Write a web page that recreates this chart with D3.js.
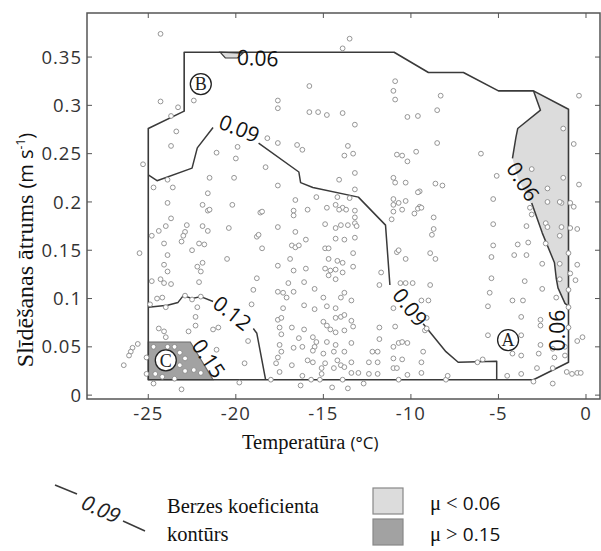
<!DOCTYPE html>
<html>
<head>
<meta charset="utf-8">
<script src="https://cdn.jsdelivr.net/npm/d3@7"></script>
<style>
  body { margin: 0; background: #fff; }
  svg { display: block; }
</style>
</head>
<body>
<svg id="chart" width="601" height="551"></svg>
<script>
// Axis ticks
const xTicks = [-25, -20, -15, -10, -5, 0];
const yTicks = [0, 0.05, 0.1, 0.15, 0.2, 0.25, 0.3, 0.35];

// Observations: [temperature °C, sliding speed m/s]
const observations = [
  [-24.3,0.374],[-24.3,0.304],[-23.3,0.298],[-22.4,0.305],[-23.7,0.289],[-23.4,0.273],[-23.7,0.258],[-25.3,0.239],
  [-24.7,0.215],[-23.6,0.215],[-23.9,0.223],[-23.9,0.199],[-21.1,0.251],[-19.9,0.257],[-20.0,0.245],[-21.5,0.225],
  [-20.1,0.225],[-21.6,0.209],[-21.9,0.197],[-20.2,0.197],[-17.6,0.305],[-17.6,0.297],[-18.2,0.266],[-17.6,0.261],
  [-16.5,0.259],[-18.3,0.236],[-17.6,0.217],[-16.6,0.202],[-21.6,0.191],[-18.6,0.189],[-16.7,0.191],[-23.7,0.183],
  [-13.5,0.369],[-13.9,0.359],[-15.8,0.320],[-15.8,0.293],[-15.3,0.293],[-14.8,0.290],[-13.9,0.292],[-13.2,0.280],
  [-10.9,0.325],[-11.0,0.315],[-10.9,0.306],[-10.2,0.288],[-9.6,0.289],[-16.2,0.254],[-13.6,0.258],[-13.8,0.248],
  [-13.3,0.250],[-10.8,0.249],[-10.5,0.248],[-10.2,0.242],[-9.7,0.252],[-13.2,0.230],[-14.1,0.223],[-13.2,0.213],
  [-11.0,0.225],[-10.9,0.220],[-10.3,0.220],[-9.5,0.211],[-15.4,0.205],[-14.2,0.205],[-13.5,0.204],[-14.3,0.197],
  [-13.9,0.194],[-11.0,0.203],[-10.7,0.199],[-10.3,0.201],[-9.5,0.195],
  [-8.3,0.310],[-8.5,0.295],[-8.5,0.261],[-6.0,0.250],[-5.1,0.227],[-5.3,0.203],[-0.4,0.310],[-1.3,0.276],
  [-0.7,0.260],[-3.1,0.234],[-1.3,0.225],[-0.4,0.218],[-2.2,0.214],[-2.2,0.200],[-1.4,0.199],[-0.9,0.199],
  [-0.7,0.195],[-3.2,0.194],[-8.6,0.219],[-8.2,0.217],[-9.6,0.210],
  [-21.5,0.192],[-22.8,0.176],[-21.9,0.175],[-21.6,0.170],[-20.4,0.173],[-24.0,0.175],[-24.4,0.170],[-24.8,0.165],
  [-22.9,0.169],[-23.0,0.165],[-23.1,0.159],[-24.1,0.157],[-22.1,0.157],[-21.8,0.156],[-22.5,0.150],[-25.5,0.147],
  [-23.9,0.145],[-20.5,0.141],[-21.9,0.137],[-22.2,0.133],[-24.1,0.135],[-23.9,0.128],[-22.0,0.128],[-24.3,0.120],
  [-24.8,0.118],[-24.1,0.116],[-23.7,0.115],[-22.1,0.117],[-18.8,0.121],[-19.0,0.109],[-24.5,0.100],[-24.2,0.101],
  [-22.9,0.103],[-22.5,0.099],[-22.0,0.102],[-24.9,0.094],[-24.0,0.091],[-22.2,0.091],[-19.1,0.094],[-22.3,0.081],
  [-22.3,0.072],[-24.4,0.069],[-24.1,0.066],[-22.7,0.066],[-21.3,0.068],[-21.0,0.070],[-19.3,0.056],[-24.0,0.060],
  [-21.1,0.047],[-25.6,0.053],[-25.9,0.049],[-26.0,0.045],[-26.1,0.041],[-26.4,0.031],[-25.1,0.039],[-25.1,0.022],
  [-24.7,0.012],[-23.1,0.006],[-19.5,0.033],[-19.8,0.013],[-24.7,0.050],[-23.9,0.050],[-23.5,0.050],[-23.2,0.044],
  [-22.9,0.038],[-23.2,0.031],[-22.9,0.025],[-23.5,0.017],[-24.2,0.019],[-24.6,0.022],[-22.0,0.023],[-22.4,0.026],
  [-18.8,0.164],
  [-18.5,0.190],[-15.9,0.192],[-14.8,0.194],[-14.1,0.192],[-13.7,0.192],[-13.2,0.191],[-11.0,0.197],[-10.5,0.192],
  [-11.0,0.190],[-9.8,0.188],[-9.6,0.193],[-9.4,0.194],[-11.1,0.182],[-16.7,0.186],[-17.6,0.174],[-16.6,0.169],
  [-14.9,0.177],[-14.3,0.173],[-14.0,0.176],[-13.6,0.176],[-13.2,0.178],[-13.1,0.175],[-13.2,0.184],[-18.7,0.166],
  [-18.5,0.152],[-16.0,0.161],[-16.8,0.155],[-16.6,0.153],[-16.4,0.155],[-14.3,0.162],[-13.8,0.161],[-13.2,0.163],
  [-14.9,0.152],[-14.7,0.152],[-13.3,0.147],[-16.9,0.141],[-14.7,0.141],[-14.2,0.139],[-13.9,0.137],[-17.6,0.134],
  [-16.7,0.129],[-16.0,0.131],[-14.9,0.131],[-14.6,0.129],[-14.3,0.130],[-13.9,0.127],[-13.3,0.133],[-14.7,0.124],
  [-14.3,0.120],[-11.7,0.127],[-17.0,0.116],[-16.1,0.117],[-11.8,0.114],[-17.6,0.107],[-17.3,0.106],[-17.1,0.101],
  [-16.7,0.107],[-15.5,0.110],[-15.0,0.101],[-14.0,0.101],[-13.8,0.106],[-13.4,0.098],[-17.3,0.090],[-16.1,0.093],
  [-15.5,0.089],[-14.8,0.092],[-14.3,0.090],[-11.0,0.090],[-17.6,0.078],[-17.4,0.080],[-15.0,0.076],[-14.3,0.080],
  [-14.0,0.081],[-13.8,0.083],[-13.4,0.077],[-17.5,0.070],[-16.8,0.070],[-16.1,0.068],[-14.8,0.072],[-14.6,0.068],
  [-14.3,0.065],[-13.8,0.067],[-13.3,0.071],[-11.8,0.070],[-10.9,0.071],[-17.4,0.063],[-16.4,0.059],[-15.6,0.060],
  [-15.4,0.055],[-15.5,0.050],[-14.8,0.055],[-14.3,0.052],[-13.4,0.054],[-11.8,0.058],[-17.5,0.052],[-17.4,0.045],
  [-16.7,0.049],[-16.2,0.050],[-15.6,0.046],[-15.0,0.043],[-14.4,0.045],[-13.8,0.045],[-12.2,0.045],[-11.9,0.045],
  [-11.0,0.050],[-10.7,0.054],[-10.5,0.055],[-10.2,0.054],[-17.6,0.039],[-17.7,0.033],[-15.9,0.036],[-15.6,0.034],
  [-14.9,0.033],[-14.2,0.036],[-14.0,0.031],[-13.4,0.034],[-12.4,0.034],[-11.9,0.034],[-11.0,0.038],[-10.5,0.037],
  [-11.0,0.028],[-10.8,0.028],[-16.8,0.031],[-15.1,0.028],[-14.4,0.028],[-13.8,0.029],[-17.5,0.024],[-16.2,0.020],
  [-15.1,0.022],[-13.4,0.023],[-13.0,0.023],[-12.4,0.022],[-11.9,0.022],[-10.2,0.021],[-9.4,0.023],[-18.0,0.016],
  [-15.7,0.016],[-15.2,0.016],[-13.9,0.016],[-10.7,0.016],[-16.3,0.010],[-14.5,0.008],[-13.6,0.007],[-12.7,0.012],
  [-9.4,0.098],[-9.2,0.067],[-10.6,0.116],[-10.3,0.116],[-9.9,0.116],[-10.8,0.148],[-10.7,0.150],[-10.3,0.141],
  [-8.7,0.184],[-8.7,0.172],[-8.8,0.166],[-8.9,0.147],[-8.6,0.141],[-8.9,0.114],[-9.0,0.098],[-5.3,0.177],
  [-5.3,0.155],[-5.4,0.143],[-5.4,0.121],[-5.5,0.106],[-5.6,0.092],[-5.6,0.062],[-3.9,0.156],[-3.3,0.158],
  [-4.1,0.145],[-3.4,0.145],[-3.4,0.175],[-3.5,0.118],[-4.2,0.098],[-3.6,0.098],[-2.5,0.110],[-2.5,0.136],
  [-3.7,0.081],[-2.6,0.078],[-2.6,0.072],[-3.7,0.062],[-2.6,0.052],[-2.7,0.043],[-3.7,0.041],[-4.2,0.043],
  [-2.8,0.028],[-3.7,0.022],[-4.5,0.020],[-1.9,0.048],[-1.8,0.039],[-1.9,0.028],[-1.1,0.024],[-0.8,0.022],
  [-0.5,0.023],[-0.3,0.023],[-0.5,0.056],[-0.2,0.060],[-1.9,0.012],[-8.0,0.016],[-6.2,0.034],[-5.9,0.037],
  [-3.0,0.014],[-3.1,0.187],[-2.3,0.178],[-2.2,0.174],[-1.4,0.174],[-0.9,0.173],[-0.5,0.172],[-1.5,0.165],
  [-2.3,0.157],[-1.0,0.147],[-0.5,0.135],[-1.5,0.136],[-0.9,0.126],[-0.6,0.119],[-1.5,0.120],[-1.0,0.109],
  [-1.7,0.101],[-1.0,0.091],[-1.0,0.070],[-1.2,0.050],[-1.2,0.041],[-1.5,0.200],[-9.1,0.080],[-9.1,0.069],
  [-9.3,0.045],[-9.4,0.034],[-7.9,0.020]
];

// Outer limit of the contoured field
const fieldOutline = [
  [-25,0.016],[-25,0.276],[-22.95,0.294],[-22.95,0.355],[-10.96,0.355],[-9.0,0.334],[-7.0,0.334],
  [-5.0,0.315],[-3.0,0.315],[-1.0,0.296],[-1.0,0.034],[-3.0,0.016]
];

// μ < 0.06 areas
const lowFrictionEast = [
  [-3.0,0.315],[-2.6,0.295],[-3.9,0.276],[-4.0,0.267],[-4.2,0.245],[-3.9,0.225],[-3.2,0.200],
  [-2.5,0.168],[-1.8,0.137],[-1.7,0.121],[-1.6,0.111],[-1.2,0.095],[-1.0,0.092],[-1.0,0.296]
];
const lowFrictionNorth = [[-20.9,0.355],[-20.6,0.349],[-19.9,0.349],[-19.6,0.354]];

// μ > 0.15 area
const highFriction = [[-25,0.055],[-22.6,0.055],[-21.3,0.016],[-25,0.016]];

// Contour line pieces (broken where the level label sits)
const contourPieces = [
  [[-3.0,0.315],[-2.6,0.295],[-3.9,0.276],[-4.0,0.267],[-4.2,0.245]],
  [[-3.1,0.199],[-2.5,0.168],[-1.8,0.137],[-1.7,0.121],[-1.6,0.111],[-1.2,0.095],[-1.0,0.092]],
  [[-25,0.228],[-24.5,0.222],[-22.5,0.235],[-22.2,0.256],[-21.3,0.277]],
  [[-18.7,0.261],[-16.4,0.231],[-16.3,0.220],[-15.6,0.215],[-13.0,0.205],[-11.45,0.176],[-11.2,0.114]],
  [[-9.3,0.074],[-8.0,0.045],[-7.3,0.034],[-5.1,0.035],[-5.1,0.016]],
  [[-25,0.091],[-23.9,0.093],[-23.3,0.096],[-23.0,0.103],[-22.5,0.100],[-22.0,0.102],[-21.3,0.097]],
  [[-19.0,0.069],[-18.8,0.064],[-18.3,0.016]]
];

// Contour level labels: position, rotation (deg)
const levelLabels = [
  { text: "0.06", t: -18.75, v: 0.349, angle: 2 },
  { text: "0.09", t: -19.8,  v: 0.276, angle: 22 },
  { text: "0.09", t: -10.05, v: 0.091, angle: 52 },
  { text: "0.12", t: -20.2,  v: 0.085, angle: 38 },
  { text: "0.15", t: -21.55, v: 0.038, angle: 56 },
  { text: "0.06", t: -3.6,   v: 0.221, angle: 58 },
  { text: "0.06", t: -1.65,  v: 0.067, angle: -90 }
];

// Circled site markers
const sites = [
  { name: "A", t: -4.45, v: 0.057 },
  { name: "B", t: -22.0, v: 0.322 },
  { name: "C", t: -24.0, v: 0.036 }
];

const svg = d3.select("#chart");
const plot = { left: 87, right: 600, top: 13, bottom: 399 };

const x = d3.scaleLinear().domain([-28.5, 0.8]).range([plot.left, plot.right]);
const y = d3.scaleLinear().domain([-0.004, 0.3956]).range([plot.bottom, plot.top]);

const line = d3.line().x(d => x(d[0])).y(d => y(d[1]));
const area = d3.line().x(d => x(d[0])).y(d => y(d[1])).curve(d3.curveLinearClosed);

const lineColor = "#3a3a3a";

// shaded friction classes
svg.append("path").attr("d", area(lowFrictionEast)).attr("fill", "#dcdcdc");
svg.append("path").attr("d", area(lowFrictionNorth)).attr("fill", "#dcdcdc")
  .attr("stroke", lineColor).attr("stroke-width", 1.2);
svg.append("path").attr("d", area(highFriction)).attr("fill", "#a2a2a2")
  .attr("stroke", "#6a6a6a").attr("stroke-width", 1.2);

// field outline
svg.append("path").attr("d", area(fieldOutline)).attr("fill", "none")
  .attr("stroke", lineColor).attr("stroke-width", 1.6).attr("stroke-linejoin", "round");

// contour lines
svg.append("g").selectAll("path").data(contourPieces).join("path")
  .attr("d", line).attr("fill", "none")
  .attr("stroke", lineColor).attr("stroke-width", 1.5).attr("stroke-linejoin", "round");

// observations
svg.append("g").selectAll("circle").data(observations).join("circle")
  .attr("cx", d => x(d[0])).attr("cy", d => y(d[1])).attr("r", 2.4)
  .attr("fill", "#fff").attr("stroke", "#8a8a8a").attr("stroke-width", 0.9);

// level labels
svg.append("g").selectAll("text").data(levelLabels).join("text")
  .attr("transform", d => `translate(${x(d.t)},${y(d.v)}) rotate(${d.angle})`)
  .attr("text-anchor", "middle").attr("dy", "0.36em")
  .attr("font-family", "'Open Sans', sans-serif").attr("font-size", 21)
  .attr("fill", "#111").text(d => d.text);

// site markers
const siteG = svg.append("g").selectAll("g").data(sites).join("g")
  .attr("transform", d => `translate(${x(d.t)},${y(d.v)})`);
siteG.append("circle").attr("r", 10.5).attr("fill", "#fff")
  .attr("stroke", "#222").attr("stroke-width", 1.3);
siteG.append("text").attr("text-anchor", "middle").attr("dy", "0.35em")
  .attr("font-family", "'Liberation Serif', serif").attr("font-size", 18)
  .attr("fill", "#222").text(d => d.name);

// axes frame
const frame = svg.append("g");
frame.append("rect")
  .attr("x", plot.left).attr("y", plot.top)
  .attr("width", plot.right - plot.left).attr("height", plot.bottom - plot.top)
  .attr("fill", "none").attr("stroke", "#555").attr("stroke-width", 1.5);

const tickLen = 5;
xTicks.forEach(t => {
  frame.append("line").attr("x1", x(t)).attr("x2", x(t))
    .attr("y1", plot.bottom).attr("y2", plot.bottom - tickLen).attr("stroke", "#555");
  frame.append("line").attr("x1", x(t)).attr("x2", x(t))
    .attr("y1", plot.top).attr("y2", plot.top + tickLen).attr("stroke", "#555");
});
yTicks.forEach(v => {
  frame.append("line").attr("x1", plot.left).attr("x2", plot.left + tickLen)
    .attr("y1", y(v)).attr("y2", y(v)).attr("stroke", "#555");
  frame.append("line").attr("x1", plot.right).attr("x2", plot.right - tickLen)
    .attr("y1", y(v)).attr("y2", y(v)).attr("stroke", "#555");
});

const tickFont = "'Open Sans', sans-serif";
svg.append("g").selectAll("text").data(xTicks).join("text")
  .attr("x", d => x(d)).attr("y", 420).attr("text-anchor", "middle")
  .attr("font-family", tickFont).attr("font-size", 18.5).attr("letter-spacing", 1)
  .attr("fill", "#333").text(d => d3.format("d")(d).replace("−", "-"));
svg.append("g").selectAll("text").data(yTicks).join("text")
  .attr("x", 82).attr("y", d => y(d)).attr("dy", "0.36em").attr("text-anchor", "end")
  .attr("font-family", tickFont).attr("font-size", 18.5).attr("letter-spacing", 1)
  .attr("fill", "#333").text(d => String(d));

// axis titles
const xTitle = svg.append("text").attr("x", 242).attr("y", 449)
  .attr("font-family", "'Liberation Serif', serif").attr("font-size", 20.5).attr("fill", "#111");
xTitle.append("tspan").text("Temperatūra ");
xTitle.append("tspan").attr("font-family", "'Open Sans', sans-serif").attr("font-size", 17).text("(°C)");

const yTitle = svg.append("text").attr("transform", "translate(33,250) rotate(-90)")
  .attr("text-anchor", "middle")
  .attr("font-family", "'Liberation Serif', serif").attr("font-size", 24).attr("fill", "#111");
yTitle.append("tspan").text("Slīdēšanas ātrums ");
const unit = yTitle.append("tspan").attr("font-family", "'Open Sans', sans-serif").attr("font-size", 20);
unit.append("tspan").text("(m s");
unit.append("tspan").attr("font-size", 12).attr("dy", -8).text("-1");
unit.append("tspan").attr("dy", 8).text(")");

// legend
const legend = svg.append("g");
legend.append("line").attr("x1", 55).attr("y1", 485).attr("x2", 77).attr("y2", 494)
  .attr("stroke", lineColor).attr("stroke-width", 1.5);
legend.append("line").attr("x1", 123).attr("y1", 521).attr("x2", 145).attr("y2", 531)
  .attr("stroke", lineColor).attr("stroke-width", 1.5);
legend.append("text").attr("transform", "translate(101,509) rotate(24)")
  .attr("text-anchor", "middle").attr("dy", "0.36em")
  .attr("font-family", "'Open Sans', sans-serif").attr("font-style", "italic")
  .attr("font-size", 21).attr("fill", "#222").text("0.09");
legend.append("text").attr("x", 167).attr("y", 513)
  .attr("font-family", "'Liberation Serif', serif").attr("font-size", 20.5).attr("fill", "#111")
  .text("Berzes koeficienta");
legend.append("text").attr("x", 167).attr("y", 541)
  .attr("font-family", "'Liberation Serif', serif").attr("font-size", 20.5).attr("fill", "#111")
  .text("kontūrs");

const classes = [
  { fill: "#dcdcdc", sym: "μ < ", level: "0.06", y: 488 },
  { fill: "#a2a2a2", sym: "μ > ", level: "0.15", y: 519 }
];
const cls = legend.selectAll("g.cls").data(classes).join("g").attr("class", "cls");
cls.append("rect").attr("x", 373).attr("y", d => d.y).attr("width", 30).attr("height", 26)
  .attr("fill", d => d.fill).attr("stroke", "#888").attr("stroke-width", 1.2);
const clsText = cls.append("text").attr("x", 430).attr("y", d => d.y + 15)
  .attr("dy", "0.36em").attr("font-size", 20.5).attr("fill", "#111")
  .attr("font-family", "'Liberation Serif', serif");
clsText.append("tspan").text(d => d.sym);
clsText.append("tspan").attr("font-family", "'Open Sans', sans-serif").attr("font-size", 19)
  .text(d => d.level);
</script>
</body>
</html>
